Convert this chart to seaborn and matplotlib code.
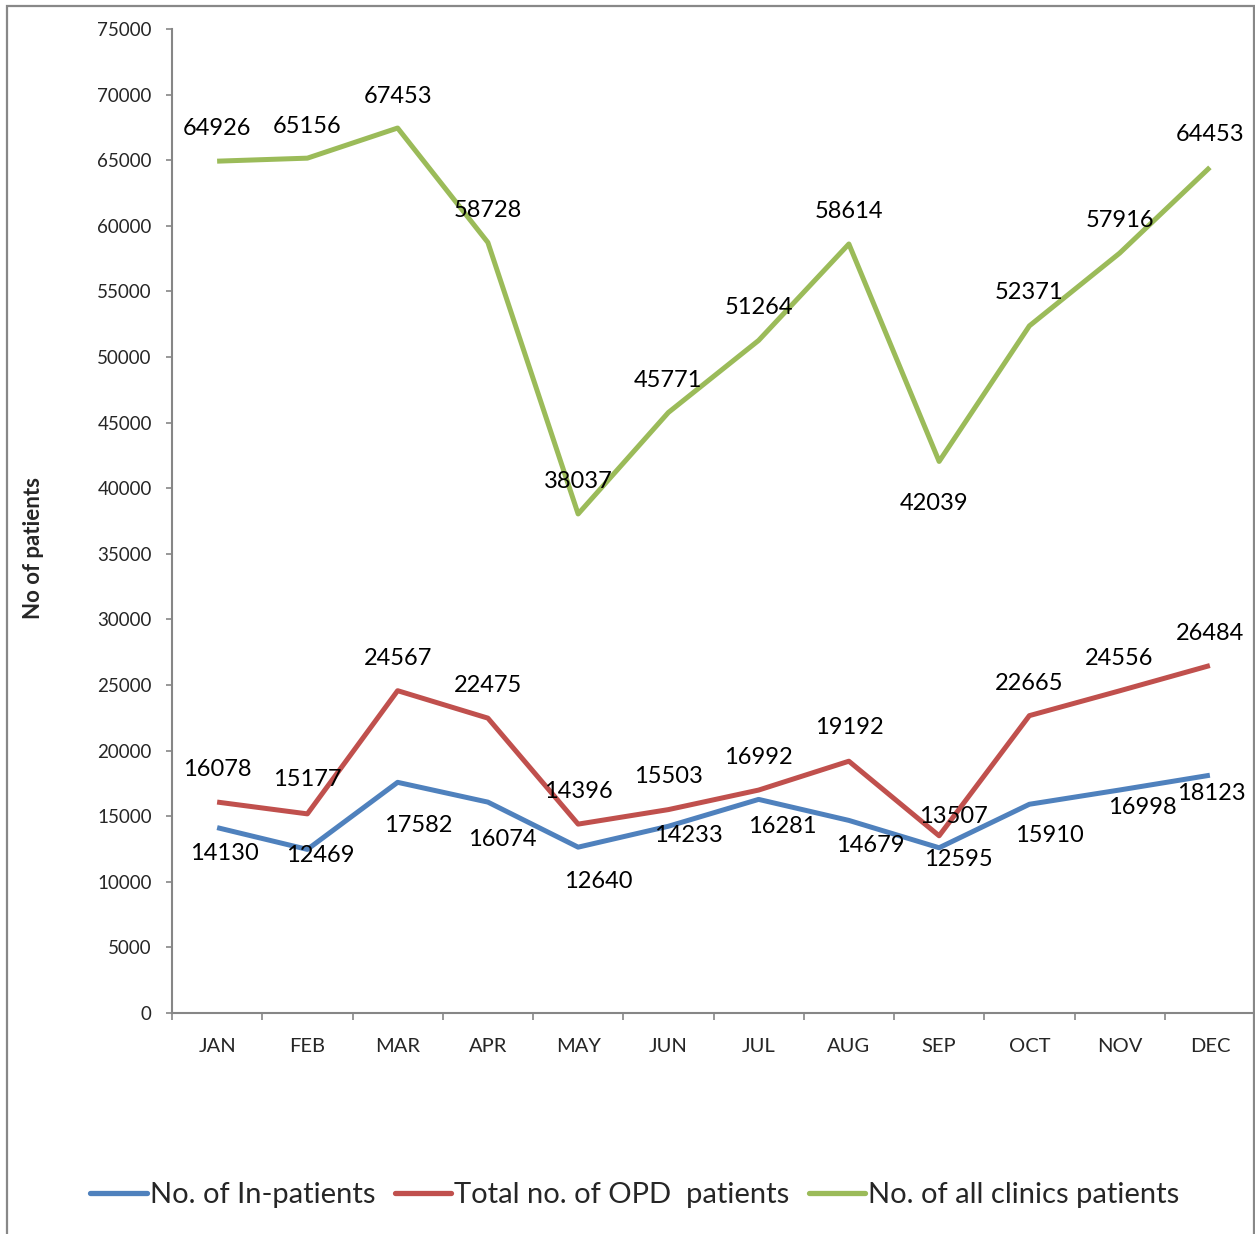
import numpy as np
import pandas as pd
import matplotlib
matplotlib.use("Agg")
import matplotlib.pyplot as plt
import seaborn as sns
from matplotlib.patches import Rectangle

months = ["JAN", "FEB", "MAR", "APR", "MAY", "JUN", "JUL", "AUG", "SEP", "OCT", "NOV", "DEC"]
in_patients = [14130, 12469, 17582, 16074, 12640, 14233, 16281, 14679, 12595, 15910, 16998, 18123]
opd_patients = [16078, 15177, 24567, 22475, 14396, 15503, 16992, 19192, 13507, 22665, 24556, 26484]
clinic_patients = [64926, 65156, 67453, 58728, 38037, 45771, 51264, 58614, 42039, 52371, 57916, 64453]
series_names = ["No. of In-patients", "Total no. of OPD  patients", "No. of all clinics patients"]
y_ticks = list(range(0, 75001, 5000))

# label offsets in pixels (dx, dy; dy positive = down on screen)
off_in = [(7, 26), (13, 6), (21, 43), (14, 37), (20, 34), (20, 9), (24, 27), (21, 25), (19, 12), (20, 31), (23, 18), (1, 18)]
off_opd = [(0, -33), (0, -34), (0, -32), (0, -33), (0, -33), (0, -33), (0, -33), (0, -34), (14, -19), (0, -32), (0, -32), (0, -32)]
off_cl = [(0, -33), (0, -32), (0, -32), (0, -32), (0, -32), (0, -32), (0, -33), (0, -32), (-5, 42), (0, -33), (0, -33), (0, -33)]

colors = ["#4F81BD", "#C0504D", "#9BBB59"]

sns.set_style("white")
plt.rcParams["font.family"] = ["Lato", "DejaVu Sans"]

df = pd.DataFrame({
    "x": list(range(12)) * 3,
    "value": in_patients + opd_patients + clinic_patients,
    "series": [series_names[0]] * 12 + [series_names[1]] * 12 + [series_names[2]] * 12,
})

fig = plt.figure(figsize=(12.55, 12.34), dpi=100)
ax = fig.add_axes([172 / 1255, 1 - 1013 / 1234, (1255 - 172) / 1255, (1013 - 29) / 1234])

sns.lineplot(data=df, x="x", y="value", hue="series", palette=colors, linewidth=3.6,
             ax=ax, legend=False, solid_joinstyle="round", solid_capstyle="butt")

ax.set_xlim(-0.5, 11.5)
ax.set_ylim(0, 75000)
ax.set_yticks(y_ticks)
ax.set_yticklabels([str(t) for t in y_ticks], fontsize=13.5)
ax.set_xticks(np.arange(-0.5, 12, 1))
ax.set_xticklabels([])
ax.set_xticks(range(12), minor=True)
ax.set_xticklabels(months, minor=True, fontsize=14.5)
ax.tick_params(axis="x", which="major", length=5, width=1.2, color="#868686", direction="out", bottom=True)
ax.tick_params(axis="x", which="minor", length=0, pad=18)
ax.tick_params(axis="y", length=4.5, width=1.2, color="#868686", direction="out", pad=10, left=True)
for s in ["top", "right"]:
    ax.spines[s].set_visible(False)
for s in ["left", "bottom"]:
    ax.spines[s].set_color("#868686")
    ax.spines[s].set_linewidth(1.5)
ax.set_xlabel("")
ax.set_ylabel("")
ax.grid(False)

fig.text(33 / 1255, 1 - 548 / 1234, "No of patients", rotation=90, fontsize=16, fontweight="bold",
         ha="center", va="center")

for vals, offs in [(in_patients, off_in), (opd_patients, off_opd), (clinic_patients, off_cl)]:
    for i, (v, (dx, dy)) in enumerate(zip(vals, offs)):
        ax.annotate(str(v), (i, v), xytext=(dx, -dy), textcoords="offset pixels",
                    ha="center", va="center", fontsize=17, color="black")

handles = [plt.Line2D([], [], color=c, lw=3.8, solid_capstyle="round") for c in colors]
fig.legend(handles, series_names, loc="center", bbox_to_anchor=(635 / 1255, 1 - 1195 / 1234),
           ncol=3, frameon=False, fontsize=21, handlelength=1.95, handletextpad=0.1,
           columnspacing=0.65)

fig.add_artist(Rectangle((7 / 1255, -0.01), (1254 - 7) / 1255, 1 - 6 / 1234 + 0.01,
                         transform=fig.transFigure, fill=False, edgecolor="#888888", lw=1.6))

fig.savefig("out.png", dpi=100)
